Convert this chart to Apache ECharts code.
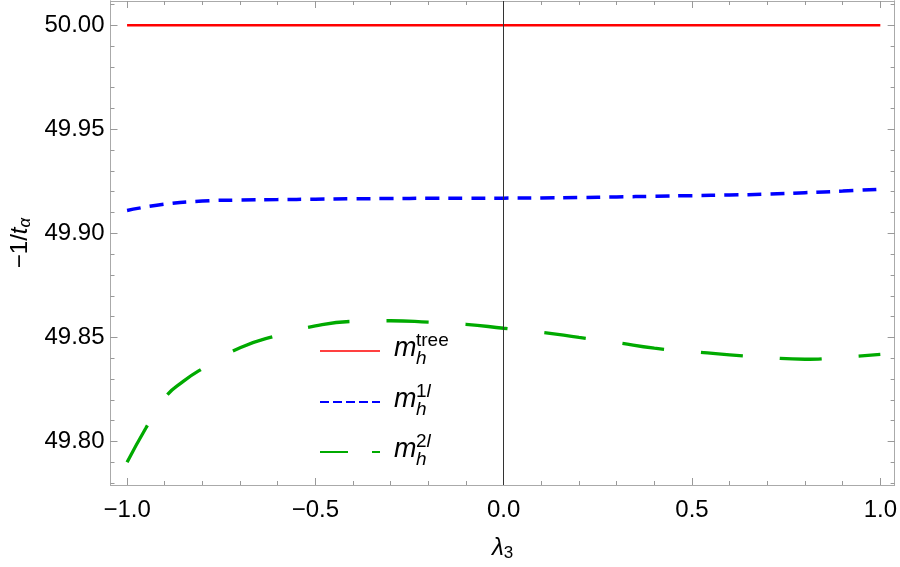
<!DOCTYPE html>
<html>
<head>
<meta charset="utf-8">
<script src="https://cdn.jsdelivr.net/npm/echarts@6/dist/echarts.min.js"></script>
<style>
  html, body { margin: 0; padding: 0; background: #fff; }
  #main { width: 900px; height: 567px; }
</style>
</head>
<body>
<div id="main"></div>
<script>
// lambda_3 grid used for the 1-loop curve
const lam = [-1.0, -0.9, -0.8, -0.7, -0.6, -0.5, -0.4, -0.3, -0.2, -0.1, 0.0,
  0.1, 0.2, 0.3, 0.4, 0.5, 0.6, 0.7, 0.8, 0.9, 1.0];
// tree level: flat line
const lamTree = [-1.0, 1.0];
const mTree = [50.00, 50.00];
// 1-loop (blue, short dashes)
const m1l = [49.9110, 49.9140, 49.9155, 49.9160, 49.9162, 49.9164, 49.9166, 49.9167,
  49.9168, 49.9168, 49.9169, 49.9170, 49.9172, 49.9175, 49.9178, 49.9181, 49.9184,
  49.9188, 49.9195, 49.9203, 49.9212];
// 2-loop (green, long dashes) - a bit denser near -1 where it bends
const lam2 = [-1.0, -0.95, -0.9, -0.85, -0.8, -0.7, -0.6, -0.5, -0.4, -0.3, -0.2, -0.1, 0.0,
  0.1, 0.2, 0.3, 0.4, 0.5, 0.6, 0.7, 0.8, 0.9, 1.0];
const m2l = [49.7900, 49.8065, 49.8210, 49.8290, 49.8350, 49.8450, 49.8510, 49.8555,
  49.8577, 49.8580, 49.8573, 49.8563, 49.8544, 49.8525, 49.8500, 49.8475, 49.8448,
  49.8432, 49.8416, 49.8403, 49.8395, 49.8405, 49.8418];

// ticks
const xMajor = [-1.0, -0.5, 0.0, 0.5, 1.0];
const xMinor = [-1.0, -0.9, -0.8, -0.7, -0.6, -0.5, -0.4, -0.3, -0.2, -0.1, 0.0,
  0.1, 0.2, 0.3, 0.4, 0.5, 0.6, 0.7, 0.8, 0.9, 1.0];
const yMajor = [49.80, 49.85, 49.90, 49.95, 50.00];
const yMinor = [49.78, 49.79, 49.80, 49.81, 49.82, 49.83, 49.84, 49.85, 49.86, 49.87,
  49.88, 49.89, 49.90, 49.91, 49.92, 49.93, 49.94, 49.95, 49.96, 49.97, 49.98, 49.99,
  50.00, 50.01];

const FONT = '"Liberation Sans", Arial, sans-serif';
const frameColor = '#aaaaaa';
const xMin = -1.044, xMax = 1.038;
const yMin = 49.7791, yMax = 50.0116;

const pairs = (xs, ys) => xs.map((x, i) => [x, ys[i]]);

// one x axis (major or minor ticks) on the bottom or on top
const makeX = (pos, ticks, len, labels) => ({
  type: 'value', position: pos, min: xMin, max: xMax,
  axisLine: { show: true, onZero: false, lineStyle: { color: frameColor, width: 1 } },
  axisTick: { show: true, inside: true, length: len, customValues: ticks,
    lineStyle: { color: '#999' } },
  axisLabel: labels ? {
    show: true, customValues: ticks, margin: 13, color: '#000', fontSize: 24,
    fontFamily: FONT, formatter: v => v.toFixed(1).replace('-', '\u2212')
  } : { show: false },
  splitLine: { show: false }
});
const makeY = (pos, ticks, len, labels) => ({
  type: 'value', position: pos, min: yMin, max: yMax,
  axisLine: { show: true, onZero: false, lineStyle: { color: frameColor, width: 1 } },
  axisTick: { show: true, inside: true, length: len, customValues: ticks,
    lineStyle: { color: '#999' } },
  axisLabel: labels ? {
    show: true, customValues: ticks, margin: 6, color: '#000', fontSize: 24,
    fontFamily: FONT, formatter: v => v.toFixed(2)
  } : { show: false },
  splitLine: { show: false }
});

const xBottom = makeX('bottom', xMajor, 7, true);
xBottom.name = '{l|\u03bb}{s|3}';
xBottom.nameLocation = 'middle';
xBottom.nameGap = 50;
xBottom.nameTextStyle = {
  color: '#000', fontFamily: FONT,
  rich: {
    l: { fontSize: 24, fontStyle: 'italic', fontFamily: FONT, color: '#000' },
    s: { fontSize: 17, fontFamily: FONT, color: '#000', verticalAlign: 'bottom', padding: [10, 0, 0, 0] }
  }
};
const yLeft = makeY('left', yMajor, 7, true);
yLeft.name = '{n|\u22121/}{t|t}{s|\u03b1}';
yLeft.nameLocation = 'middle';
yLeft.nameGap = 77;
yLeft.nameTextStyle = {
  color: '#000', fontFamily: FONT,
  rich: {
    n: { fontSize: 24, fontFamily: FONT, color: '#000' },
    t: { fontSize: 24, fontStyle: 'italic', fontFamily: FONT, color: '#000' },
    s: { fontSize: 17, fontStyle: 'italic', fontFamily: FONT, color: '#000', verticalAlign: 'bottom', padding: [10, 0, 0, 0] }
  }
};

// legend drawn by hand, Mathematica style m_h^{...}
const legendRow = (y, sup, lineStyle) => [
  { type: 'line', shape: { x1: 320, y1: y - 6, x2: 380, y2: y - 6 }, style: lineStyle },
  { type: 'text', x: 394, y: y - 9, style: { text: 'm', font: 'italic 27px ' + FONT, fill: '#000', verticalAlign: 'middle' } },
  { type: 'text', x: 416, y: y - 16, style: { text: sup, font: '19px ' + FONT, fill: '#000', verticalAlign: 'middle',
      rich: { a: { fontSize: 19, fontFamily: FONT }, b: { fontSize: 19, fontFamily: FONT, fontStyle: 'italic' } } } },
  { type: 'text', x: 416, y: y + 2, style: { text: 'h', font: 'italic 19px ' + FONT, fill: '#000', verticalAlign: 'middle' } }
];

const option = {
  animation: false,
  backgroundColor: '#fff',
  grid: { left: 110, right: 3, top: 1, bottom: 80, containLabel: false },
  xAxis: [xBottom, makeX('bottom', xMinor, 4, false), makeX('top', xMajor, 7, false), makeX('top', xMinor, 4, false)],
  yAxis: [yLeft, makeY('left', yMinor, 4, false), makeY('right', yMajor, 7, false), makeY('right', yMinor, 4, false)],
  series: [
    {
      name: 'tree', type: 'line', data: pairs(lamTree, mTree), showSymbol: false,
      lineStyle: { color: '#ff0000', width: 2.5 },
      markLine: {
        silent: true, symbol: ['none', 'none'], label: { show: false },
        lineStyle: { color: '#333', width: 1, type: 'solid' },
        data: [{ xAxis: 0 }]
      }
    },
    {
      name: '1l', type: 'line', data: pairs(lam, m1l), showSymbol: false, smooth: true,
      lineStyle: { color: '#0000ff', width: 3.5, type: [14, 9] }
    },
    {
      name: '2l', type: 'line', data: pairs(lam2, m2l), showSymbol: false, smooth: true,
      lineStyle: { color: '#00aa00', width: 3.3, type: [42, 37] }
    }
  ],
  graphic: [
    ...legendRow(357, 'tree', { stroke: '#ff0000', lineWidth: 1.5 }),
    ...legendRow(408, '{a|1}{b|l}', { stroke: '#0000ff', lineWidth: 2, lineDash: [9, 4] }),
    ...legendRow(458, '{a|2}{b|l}', { stroke: '#00aa00', lineWidth: 2, lineDash: [28, 24] })
  ]
};

const chart = echarts.init(document.getElementById('main'));
chart.setOption(option);
</script>
</body>
</html>
